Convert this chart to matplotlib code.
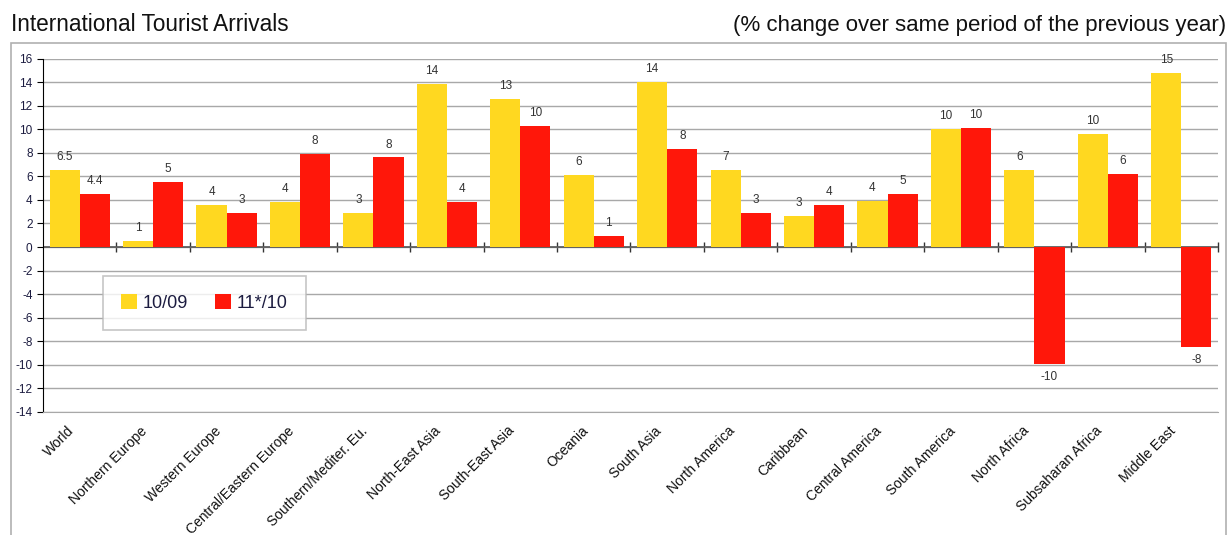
import matplotlib
matplotlib.use("Agg")
import matplotlib.pyplot as plt
import matplotlib.patches as mpatches
import matplotlib.transforms as mtransforms
import numpy as np

plt.rcParams["font.family"] = ["Liberation Sans", "DejaVu Sans"]
plt.rcParams["axes.unicode_minus"] = False

# Data
regions = [
    "World", "Northern Europe", "Western Europe", "Central/Eastern Europe",
    "Southern/Mediter. Eu.", "North-East Asia", "South-East Asia", "Oceania",
    "South Asia", "North America", "Caribbean", "Central America",
    "South America", "North Africa", "Subsaharan Africa", "Middle East",
]
growth_10_09 = [6.5, 0.5, 3.6, 3.8, 2.9, 13.8, 12.6, 6.1,
                14.0, 6.5, 2.6, 3.9, 10.0, 6.5, 9.6, 14.8]
growth_11_10 = [4.5, 5.5, 2.9, 7.9, 7.6, 3.8, 10.3, 0.9,
                8.3, 2.9, 3.6, 4.5, 10.1, -9.9, 6.2, -8.5]
labels_10_09 = ["6.5", "1", "4", "4", "3", "14", "13", "6",
                "14", "7", "3", "4", "10", "6", "10", "15"]
labels_11_10 = ["4.4", "5", "3", "8", "8", "4", "10", "1",
                "8", "3", "4", "5", "10", "-10", "6", "-8"]
series_names = ["10/09", "11*/10"]
yticks = list(range(-14, 17, 2))

YELLOW = "#FFD820"
RED = "#FF170A"
TXT = "#1c1c40"

fig = plt.figure(figsize=(12.31, 5.35), dpi=100)
ax = fig.add_axes([43 / 1231, 1 - 412 / 535, 1175 / 1231, 353.5 / 535])

# outer frame of the chart area
fig.patches.append(mpatches.Rectangle((11 / 1231, -0.05), 1215 / 1231, 1 - 43 / 535 + 0.05,
                                      transform=fig.transFigure, fill=False,
                                      edgecolor="#b0b0b0", linewidth=1.2, zorder=0))

x = np.arange(len(regions))
w = 0.41
bars1 = ax.bar(x - w / 2, growth_10_09, w, color=YELLOW, label=series_names[0], zorder=3)
bars2 = ax.bar(x + w / 2, growth_11_10, w, color=RED, label=series_names[1], zorder=3)

for bars, labs in [(bars1, labels_10_09), (bars2, labels_11_10)]:
    for b, lab in zip(bars, labs):
        h = b.get_height()
        if h >= 0:
            ax.annotate(lab, (b.get_x() + b.get_width() / 2, h), xytext=(0, 5),
                        textcoords="offset points", ha="center", va="bottom",
                        fontsize=8.5, color="#333333", zorder=4)
        else:
            ax.annotate(lab, (b.get_x() + b.get_width() / 2, h), xytext=(0, -5),
                        textcoords="offset points", ha="center", va="top",
                        fontsize=8.5, color="#333333", zorder=4)

ax.set_xlim(-0.5, len(regions) - 0.5)
ax.set_ylim(-14, 16)
ax.set_yticks(yticks)
ax.tick_params(axis="y", labelsize=8.5, labelcolor=TXT, length=4, color="black", direction="out")
ax.yaxis.grid(True, color="#a8a8a8", linewidth=1.0, zorder=0)
ax.set_axisbelow(True)

ax.set_xticks(x)
ax.set_xticklabels(regions, rotation=45, ha="right", va="center", rotation_mode="anchor",
                   fontsize=10, color="#111111")
ax.tick_params(axis="x", length=0, pad=12)
shift = mtransforms.ScaledTranslation(-8 / 100, 0, fig.dpi_scale_trans)
for lab in ax.get_xticklabels():
    lab.set_transform(lab.get_transform() + shift)

for s in ["top", "right"]:
    ax.spines[s].set_visible(False)
ax.spines["left"].set_color("black")
ax.spines["bottom"].set_color("#a8a8a8")

# zero line with category boundary ticks
ax.axhline(0, color="#555555", linewidth=1.2, zorder=2)
zero_frac = 14 / 30
sec = ax.secondary_xaxis(zero_frac)
sec.set_xticks(np.arange(1, len(regions) + 1) - 0.5)
sec.set_xticklabels([])
sec.tick_params(direction="inout", length=7, width=1, color="#333333")
sec.spines["bottom"].set_visible(False)
sec.spines["top"].set_visible(False)

leg = ax.legend(loc="upper left", bbox_to_anchor=(0.051, 0.385), borderaxespad=0,
                ncol=2, fontsize=13, frameon=True, fancybox=False, edgecolor="#b8b8b8",
                handlelength=0.9, handleheight=0.9, columnspacing=1.5, borderpad=1.0,
                handletextpad=0.3)
leg.get_frame().set_linewidth(1.2)
for t in leg.get_texts():
    t.set_color(TXT)

fig.text(11 / 1231, 1 - 31 / 535, "International Tourist Arrivals", fontsize=16.3,
         ha="left", va="baseline", color="#111111")
fig.text(1226 / 1231, 1 - 31 / 535, "(% change over same period of the previous year)",
         fontsize=16, ha="right", va="baseline", color="#111111")

fig.savefig("out.png", dpi=100)
